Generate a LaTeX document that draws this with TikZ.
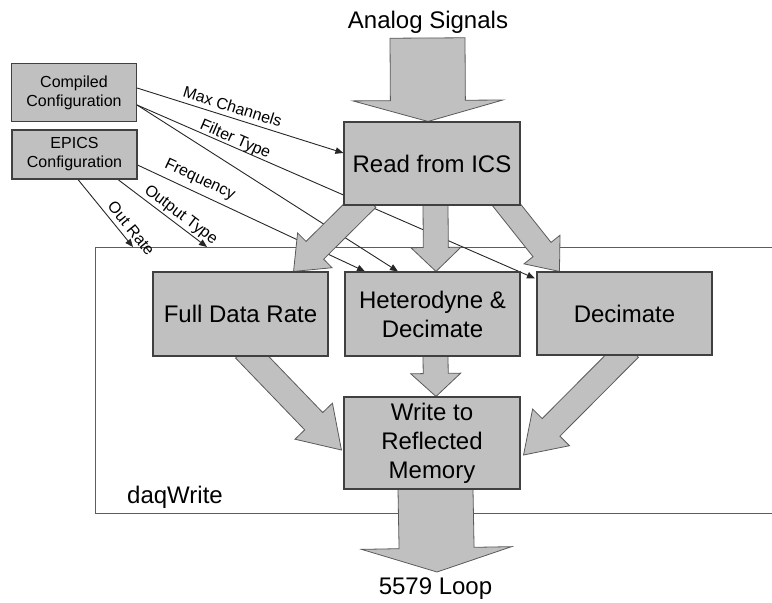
\documentclass[tikz,border=0pt]{standalone}
\usepackage{fontspec}
\setmainfont{Liberation Sans}
\usetikzlibrary{calc,arrows.meta}
\pgfdeclarelayer{bg}
\pgfdeclarelayer{mid}
\pgfsetlayers{bg,mid,main}
\definecolor{boxgray}{HTML}{C0C0C0}
\definecolor{edgegray}{HTML}{404040}
\definecolor{arrowedge}{HTML}{5A5A5A}
\newcommand{\bigfont}{\fontsize{24}{29}\selectfont}
\newcommand{\smallfont}{\fontsize{16}{19}\selectfont}
% block arrow: start, tip, half shaft width, half head width, head length, back extension
\newcommand{\blockarr}[6]{%
  \coordinate (ba-s) at ($(#1)!-#6!(#2)$);
  \coordinate (ba-t) at (#2);
  \coordinate (ba-h) at ($(ba-t)!#5!(ba-s)$);
  \draw[bigarrow] ($(ba-s)!#3!90:(ba-t)$) -- ($(ba-h)!#3!90:(ba-t)$)
    -- ($(ba-h)!#4!90:(ba-t)$) -- (ba-t) -- ($(ba-h)!#4!-90:(ba-t)$)
    -- ($(ba-h)!#3!-90:(ba-t)$) -- ($(ba-s)!#3!-90:(ba-t)$) -- cycle;
}
\begin{document}
\begin{tikzpicture}[x=1pt,y=-1pt,
  box/.style={draw=edgegray, line width=1.1pt, fill=boxgray, align=center, inner sep=0pt},
  bigarrow/.style={draw=arrowedge, line width=0.8pt, fill=boxgray, line join=miter},
  thinarrow/.style={draw=black!85, line width=0.9pt, -{Triangle[length=8pt,width=6.5pt]}},
  lbl/.style={sloped, font=\smallfont, inner sep=0pt, text height=11.5pt, text depth=0pt},
  txt/.style={font=\bigfont, inner sep=0pt}]
\useasboundingbox (0,0) rectangle (772,603);

% main boxes
\node[box, minimum width=125pt, minimum height=58pt, font=\smallfont] (comp) at (74,92.5) {Compiled\\Configuration};
\node[box, minimum width=125pt, minimum height=49pt, font=\smallfont] (epics) at (74.5,154.5) {EPICS\\Configuration};
\node[box, minimum width=176pt, minimum height=83pt, font=\bigfont] (ics) at (432,163.5) {Read from ICS};
\node[box, minimum width=175pt, minimum height=84pt, font=\bigfont] (fdr) at (240.5,314) {Full Data Rate};
\node[box, minimum width=175pt, minimum height=84pt, font=\bigfont] (het) at (432.5,314) {Heterodyne \&\\Decimate};
\node[box, minimum width=175pt, minimum height=83pt, font=\bigfont] (dec) at (624.5,313.5) {Decimate};
\node[box, minimum width=176pt, minimum height=92pt, font=\bigfont] (wrm) at (432,443) {Write to\\Reflected\\Memory};

\node[txt, anchor=base] (analog) at (428,28.5) {Analog Signals};
\node[txt, anchor=base] (loop) at (435.5,594) {5579 Loop};
\node[txt, anchor=base west] (daqlbl) at (127,503) {daqWrite};

\begin{pgfonlayer}{bg}
  \node[draw=edgegray!85, line width=1pt, minimum width=720pt, minimum height=266pt,
        anchor=north west, inner sep=0pt] (daq) at (95,247) {};
  % thin configuration connectors
  \draw[thinarrow] ($(comp.east)+(0,-4.5)$) -- node[lbl, pos=.447, above=4.8pt] {Max Channels} ($(ics.west)+(0,-10.5)$);
  \draw[thinarrow] ($(comp.east)+(0,12.5)$) -- node[lbl, pos=.239, above=2.8pt] {Filter Type} ($(dec.north west)+(-1.5,7)$);
  \draw[thinarrow] ($(comp.east)+(0,12.5)$) -- ($(het.north)+(-34.5,0)$);
  \draw[thinarrow] ($(epics.east)+(0,10.5)$) -- node[lbl, pos=.25, above=8.5pt] {Frequency} ($(het.north)+(-67.5,0)$);
  \draw[thinarrow] ($(epics.south)+(43.5,0)$) -- node[lbl, pos=.64, above=5pt] {Output Type} ($(daq.north west)+(112,0)$);
  \draw[thinarrow] ($(epics.south)+(3.5,0)$) -- node[lbl, pos=.82, above=4.7pt] {Out Rate} ($(daq.north west)+(38,0)$);
\end{pgfonlayer}

\begin{pgfonlayer}{mid}
  \coordinate (a1s) at (427.5,38);
  \coordinate (a1t) at ($(ics.north)+(-4,0)$);
  \blockarr{a1s}{a1t}{37.5pt}{75pt}{21pt}{0pt}
  \coordinate (a2s) at ($(ics.south west)+(16.5,0)$);
  \coordinate (a2t) at ($(fdr.north east)+(-35,0)$);
  \blockarr{a2s}{a2t}{12.5pt}{24.5pt}{30pt}{10pt}
  \coordinate (a3s) at ($(ics.south)+(3.5,0)$);
  \coordinate (a3t) at ($(het.north)+(3.5,0)$);
  \blockarr{a3s}{a3t}{12.5pt}{25pt}{24pt}{10pt}
  \coordinate (a4s) at ($(ics.south east)+(-13.5,0)$);
  \coordinate (a4t) at ($(dec.north west)+(23,0)$);
  \blockarr{a4s}{a4t}{11.5pt}{23pt}{28pt}{10pt}
  \coordinate (a5s) at ($(fdr.south)+(11,0)$);
  \coordinate (a5t) at ($(wrm.west)+(-2,7)$);
  \blockarr{a5s}{a5t}{12.5pt}{26pt}{40pt}{10pt}
  \coordinate (a6s) at ($(dec.south)+(-2,0)$);
  \coordinate (a6t) at ($(wrm.east)+(3,12)$);
  \blockarr{a6s}{a6t}{12.5pt}{26pt}{39pt}{10pt}
  \coordinate (a7s) at ($(het.south)+(3,0)$);
  \coordinate (a7t) at ($(wrm.north)+(4,0)$);
  \blockarr{a7s}{a7t}{12.5pt}{25pt}{23pt}{10pt}
  \coordinate (a8s) at ($(wrm.south)+(3.5,0)$);
  \coordinate (a8t) at (437,572);
  \blockarr{a8s}{a8t}{37.5pt}{75pt}{24pt}{10pt}
\end{pgfonlayer}
\end{tikzpicture}
\end{document}
